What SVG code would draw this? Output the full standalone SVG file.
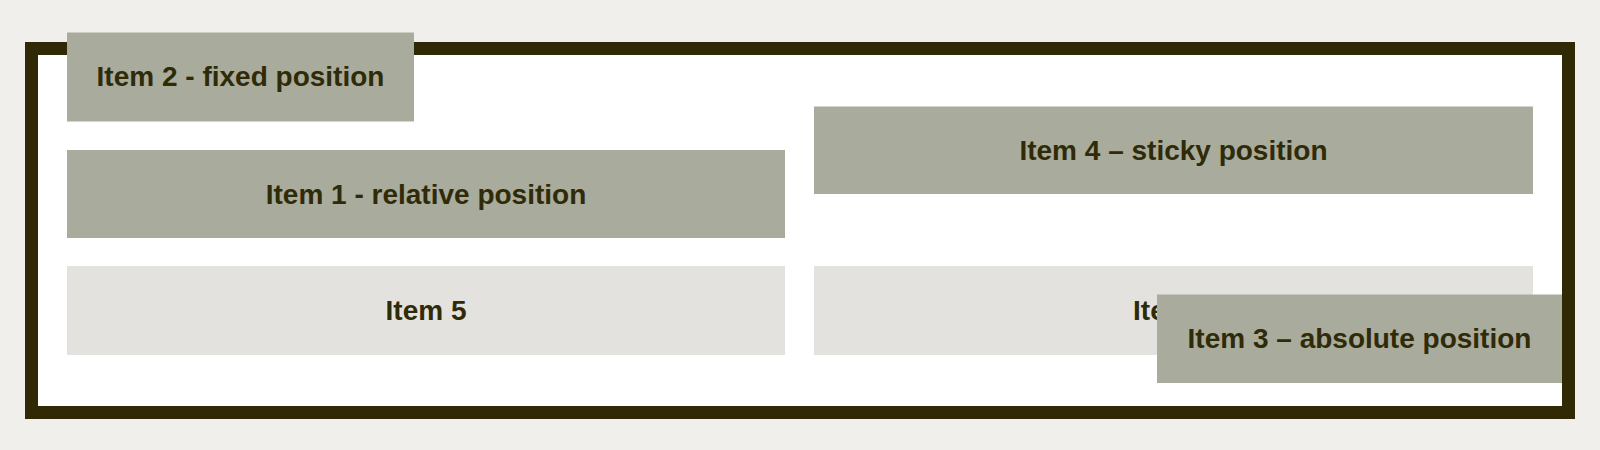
<svg xmlns="http://www.w3.org/2000/svg" width="1600" height="450" viewBox="0 0 1600 450">
<style>
.dark{fill:#a9ab9c}
.light{fill:#e3e2df}
.lbl{font-family:"Liberation Sans",Arial,Helvetica,sans-serif;font-weight:bold;font-size:28px;fill:#2f2b08;text-anchor:middle}
</style>
<rect x="0" y="0" width="1600" height="450" fill="#f0efec"/>
<g id="container">
<rect x="31.5" y="48.5" width="1537" height="364" fill="#ffffff" stroke="#2f2a05" stroke-width="13"/>
</g>
<g id="connectors"></g>
<g id="item1">
<rect class="dark" x="67" y="150" width="718" height="88"/>
<text class="lbl" x="426" y="204">Item 1 - relative position</text>
</g>
<g id="item4">
<rect class="dark" x="814" y="106.5" width="719" height="87.5"/>
<text class="lbl" x="1173.5" y="160">Item 4 – sticky position</text>
</g>
<g id="item5">
<rect class="light" x="67" y="266" width="718" height="89"/>
<text class="lbl" x="426" y="320">Item 5</text>
</g>
<g id="item6">
<rect class="light" x="814" y="266" width="719" height="89"/>
<text class="lbl" x="1173.5" y="320">Item 6</text>
</g>
<g id="item3">
<rect class="dark" x="1157" y="294.5" width="405" height="88.5"/>
<text class="lbl" x="1359.5" y="348">Item 3 – absolute position</text>
</g>
<g id="item2">
<rect class="dark" x="67" y="32.5" width="347" height="89"/>
<text class="lbl" x="240.5" y="86">Item 2 - fixed position</text>
</g>
</svg>
